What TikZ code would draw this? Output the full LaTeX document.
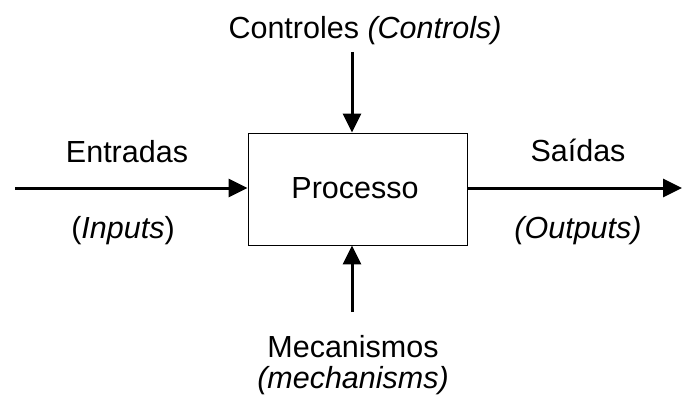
\documentclass[tikz,border=0pt]{standalone}
\usepackage{fontspec}
\setmainfont{Liberation Sans}
\usetikzlibrary{arrows.meta}
\begin{document}
\begin{tikzpicture}[x=1pt,y=-1pt,
  lbl/.style={anchor=base,inner sep=0pt,font=\fontsize{30.5}{36}\selectfont},
  flow/.style={line width=3pt,-{Triangle[length=19pt,width=18pt]}},
  procbox/.style={draw,line width=0.9pt,minimum width=219pt,minimum height=112pt,inner sep=0pt}]
\useasboundingbox (0,0) rectangle (682,396);
% central process box
\node[procbox] (proc) at (357.5,189) {};
\node[lbl] (proctext) at (355,198) {Processo};
% free ends of the four arrows
\coordinate (inStart) at (15,188);
\coordinate (outEnd) at (682,188);
\coordinate (ctlStart) at (352,52);
\coordinate (mechStart) at (352,312);
\draw[flow] (inStart) -- (proc.west |- inStart);
\draw[flow] (proc.east |- outEnd) -- (outEnd);
\draw[flow] (ctlStart) -- (ctlStart |- proc.north);
\draw[flow] (mechStart) -- (mechStart |- proc.south);
% labels
\node[lbl] (ctl) at (365,39) {Controles \textit{(Controls)}};
\node[lbl] (in1) at (127,162) {Entradas};
\node[lbl] (in2) at (123,238) {(\textit{Inputs})};
\node[lbl] (out1) at (578,161) {Saídas};
\node[lbl] (out2) at (578,238) {\textit{(Outputs)}};
\node[lbl] (mech1) at (353,357) {Mecanismos};
\node[lbl] (mech2) at (353,388) {\textit{(mechanisms)}};
\end{tikzpicture}
\end{document}
